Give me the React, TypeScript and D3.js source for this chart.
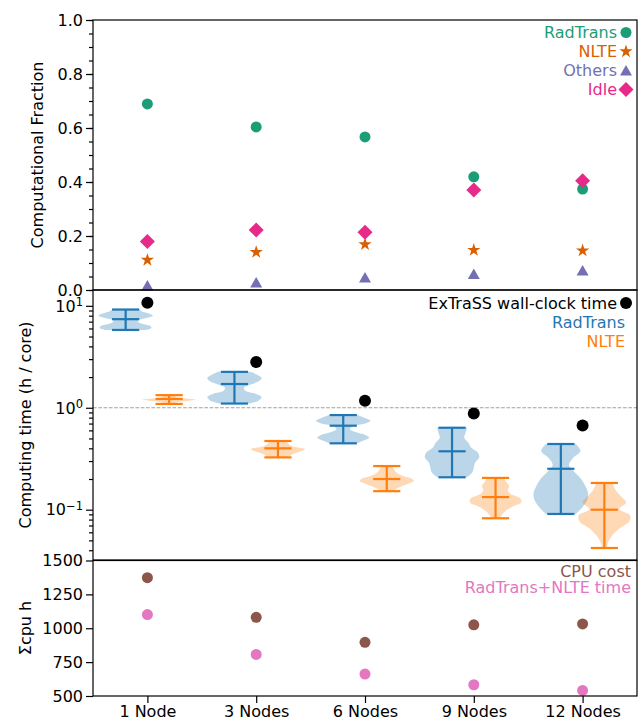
import { useEffect, useRef } from "react";
import * as d3 from "d3";

const NODES = ["1 Node", "3 Nodes", "6 Nodes", "9 Nodes", "12 Nodes"];

// top panel: fraction of computing time
const FRAC_RADTRANS = [0.689, 0.604, 0.567, 0.419, 0.374];
const FRAC_NLTE = [0.111, 0.14, 0.169, 0.148, 0.146];
const FRAC_OTHERS = [0.017, 0.028, 0.046, 0.059, 0.072];
const FRAC_IDLE = [0.18, 0.222, 0.214, 0.37, 0.405];

// middle panel: computing time per core (h)
const WALL_CLOCK = [10.7, 2.81, 1.17, 0.88, 0.67];
const RT_MIN = [5.8, 1.1, 0.448, 0.208, 0.0908];
const RT_MEAN = [7.4, 1.71, 0.667, 0.374, 0.252];
const RT_MAX = [9.2, 2.25, 0.848, 0.637, 0.441];
// relative violin widths, min -> max
const RT_SHAPE = [
  [0.75, 0.95, 0.9, 0.6, 0.45, 0.5, 0.8, 1.0, 0.85, 0.6, 0.5],
  [0.55, 0.9, 1.0, 0.8, 0.4, 0.35, 0.6, 0.9, 1.0, 0.85, 0.6],
  [0.5, 0.75, 0.95, 0.8, 0.45, 0.25, 0.35, 0.8, 1.0, 0.8, 0.5],
  [0.55, 0.75, 0.8, 0.85, 1.0, 0.95, 0.7, 0.6, 0.45, 0.5, 0.55],
  [0.55, 0.8, 0.97, 1.0, 0.9, 0.75, 0.5, 0.3, 0.45, 0.72, 0.55],
];
const NLTE_MIN = [1.09, 0.326, 0.152, 0.0824, 0.0421];
const NLTE_MEAN = [1.22, 0.4, 0.2, 0.133, 0.1];
const NLTE_MAX = [1.33, 0.472, 0.268, 0.205, 0.183];
const NLTE_SHAPE = [
  [0.15, 0.2, 0.3, 0.5, 0.8, 1.0, 0.7, 0.4, 0.25, 0.2, 0.15],
  [0.3, 0.45, 0.55, 0.7, 0.9, 1.0, 0.75, 0.5, 0.4, 0.35, 0.3],
  [0.2, 0.35, 0.55, 0.8, 1.0, 0.9, 0.6, 0.4, 0.3, 0.25, 0.2],
  [0.15, 0.25, 0.4, 0.65, 0.95, 0.9, 0.55, 0.45, 0.5, 0.4, 0.3],
  [0.08, 0.15, 0.3, 0.55, 0.9, 0.95, 0.55, 0.8, 0.6, 0.4, 0.3],
];

// bottom panel: summed cpu hours
const CPU_COST = [1373, 1081, 896, 1025, 1032];
const RT_NLTE_TIME = [1101, 807, 662, 583, 541];

const FONT = "DejaVu Sans, sans-serif";
const FS = 16;
const C_RT = "#1b9e77", C_NLTE = "#d95f02", C_OTH = "#7570b3", C_IDLE = "#e7298a";
const C0 = "#1f77b4", C1 = "#ff7f0e";

export default function App() {
  const svgRef = useRef<SVGSVGElement>(null);

  useEffect(() => {
    if (!svgRef.current) return;
    const svg = d3.select(svgRef.current);
    svg.selectAll("*").remove();

    const L = 93, R = 637;
    const x = d3.scaleLinear().domain([-0.5, 4.5]).range([L, R]);
    const y1 = d3.scaleLinear().domain([0, 1]).range([290, 20]);
    const y2 = d3.scaleLog().domain([0.0321, 14.3]).range([560, 290]);
    const y3 = d3.scaleLinear().domain([500, 1500]).range([696, 560.5]);

    const styleAxis = (g: any) => {
      g.select(".domain").remove();
      g.selectAll("line").attr("stroke", "#000").attr("stroke-width", 1.2);
      g.selectAll("text").attr("font-family", FONT).attr("font-size", FS).attr("fill", "#000");
    };

    // ---------- panel 1 ----------
    svg.append("g").attr("transform", `translate(${L},0)`)
      .call(d3.axisLeft(y1).tickValues(d3.range(0, 1.0001, 0.05)).tickSize(4).tickFormat(() => "") as any)
      .call(styleAxis);
    svg.append("g").attr("transform", `translate(${L},0)`)
      .call(d3.axisLeft(y1).tickValues([0, 0.2, 0.4, 0.6, 0.8, 1.0]).tickSize(7).tickPadding(3).tickFormat(d3.format(".1f")) as any)
      .call(styleAxis);

    const star = d3.symbol().type(d3.symbolStar).size(55)()!;
    const tri = "M0,-5.5L6,5L-6,5Z";
    const diamond = "M0,-7.5L7.5,0L0,7.5L-7.5,0Z";

    const p1 = svg.append("g");
    FRAC_RADTRANS.forEach((v, i) =>
      p1.append("circle").attr("cx", x(i)).attr("cy", y1(v)).attr("r", 5.5).attr("fill", C_RT));
    FRAC_NLTE.forEach((v, i) =>
      p1.append("path").attr("d", star).attr("transform", `translate(${x(i)},${y1(v)})`).attr("fill", C_NLTE));
    FRAC_OTHERS.forEach((v, i) =>
      p1.append("path").attr("d", tri).attr("transform", `translate(${x(i)},${y1(v)})`).attr("fill", C_OTH));
    FRAC_IDLE.forEach((v, i) =>
      p1.append("path").attr("d", diamond).attr("transform", `translate(${x(i)},${y1(v)})`).attr("fill", C_IDLE));

    const leg1 = [
      { t: "RadTrans", c: C_RT, m: "circle" },
      { t: "NLTE", c: C_NLTE, m: star },
      { t: "Others", c: C_OTH, m: tri },
      { t: "Idle", c: C_IDLE, m: diamond },
    ];
    leg1.forEach((e, i) => {
      const yy = 32.5 + i * 19;
      p1.append("text").attr("x", 617).attr("y", yy).attr("dy", "0.36em").attr("text-anchor", "end")
        .attr("font-family", FONT).attr("font-size", FS).attr("fill", e.c).text(e.t);
      if (e.m === "circle") p1.append("circle").attr("cx", 626).attr("cy", yy).attr("r", 5.5).attr("fill", e.c);
      else p1.append("path").attr("d", e.m).attr("transform", `translate(626,${yy})`).attr("fill", e.c);
    });

    // ---------- panel 2 ----------
    const minor: number[] = [];
    for (let k = -2; k <= 1; k++) for (let m = 2; m <= 9; m++) {
      const v = m * Math.pow(10, k);
      if (v > 0.0321 && v < 14.3) minor.push(v);
    }
    svg.append("g").attr("transform", `translate(${L},0)`)
      .call(d3.axisLeft(y2).tickValues(minor).tickSize(4).tickFormat(() => "") as any)
      .call(styleAxis);
    svg.append("g").attr("transform", `translate(${L},0)`)
      .call(d3.axisLeft(y2).tickValues([0.1, 1, 10]).tickSize(7).tickFormat(() => "") as any)
      .call(styleAxis);
    [[0.1, "\u22121"], [1, "0"], [10, "1"]].forEach(([v, e]) => {
      const t = svg.append("text").attr("x", 83).attr("y", y2(v as number)).attr("dy", "0.36em")
        .attr("text-anchor", "end").attr("font-family", FONT).attr("font-size", FS).attr("fill", "#000");
      t.append("tspan").text("10");
      t.append("tspan").attr("dy", "-0.45em").attr("font-size", 11.5).text(e as string);
    });

    svg.append("line").attr("x1", L).attr("x2", R).attr("y1", y2(1)).attr("y2", y2(1))
      .attr("stroke", "#a0a0a0").attr("stroke-width", 1.1).attr("stroke-dasharray", "3.7 1.6");

    const HALF = x(0.25) - x(0);
    const CAP = x(0.125) - x(0);
    const drawViolin = (cx: number, lo: number, hi: number, mean: number, shape: number[], color: string) => {
      const n = shape.length;
      const pts = shape.map((w, i) => ({
        y: y2(Math.pow(10, Math.log10(lo) + (Math.log10(hi) - Math.log10(lo)) * i / (n - 1))),
        w: w * HALF,
      }));
      const area = d3.area<{ y: number; w: number }>()
        .y((d) => d.y).x0((d) => cx - d.w).x1((d) => cx + d.w)
        .curve(d3.curveCatmullRom);
      svg.append("path").attr("d", area(pts)).attr("fill", color).attr("fill-opacity", 0.3);
      const g = svg.append("g").attr("stroke", color).attr("stroke-width", 2.2);
      g.append("line").attr("x1", cx).attr("x2", cx).attr("y1", y2(lo)).attr("y2", y2(hi));
      [lo, hi, mean].forEach((v) =>
        g.append("line").attr("x1", cx - CAP).attr("x2", cx + CAP).attr("y1", y2(v)).attr("y2", y2(v)));
    };
    NODES.forEach((_, i) => drawViolin(x(i - 0.2), RT_MIN[i], RT_MAX[i], RT_MEAN[i], RT_SHAPE[i], C0));
    NODES.forEach((_, i) => drawViolin(x(i + 0.2), NLTE_MIN[i], NLTE_MAX[i], NLTE_MEAN[i], NLTE_SHAPE[i], C1));
    WALL_CLOCK.forEach((v, i) =>
      svg.append("circle").attr("cx", x(i)).attr("cy", y2(v)).attr("r", 6).attr("fill", "#000"));

    const leg2 = [
      { t: "ExTraSS wall-clock time", c: "#000", x: 617 },
      { t: "RadTrans", c: C0, x: 625 },
      { t: "NLTE", c: C1, x: 625 },
    ];
    leg2.forEach((e, i) => {
      const yy = 303 + i * 19;
      svg.append("text").attr("x", e.x).attr("y", yy).attr("dy", "0.36em").attr("text-anchor", "end")
        .attr("font-family", FONT).attr("font-size", FS).attr("fill", e.c).text(e.t);
    });
    svg.append("circle").attr("cx", 626).attr("cy", 303).attr("r", 6).attr("fill", "#000");

    // ---------- panel 3 ----------
    svg.append("g").attr("transform", `translate(${L},0)`)
      .call(d3.axisLeft(y3).tickValues([500, 750, 1000, 1250, 1500]).tickSize(7).tickPadding(3).tickFormat(d3.format("d")) as any)
      .call(styleAxis);
    svg.append("g").attr("transform", "translate(0,696)")
      .call(d3.axisBottom(x).tickValues([0, 1, 2, 3, 4]).tickSize(7).tickPadding(3).tickFormat((d) => NODES[+d]) as any)
      .call(styleAxis);

    CPU_COST.forEach((v, i) =>
      svg.append("circle").attr("cx", x(i)).attr("cy", y3(v)).attr("r", 5.5).attr("fill", "#8c564b"));
    RT_NLTE_TIME.forEach((v, i) =>
      svg.append("circle").attr("cx", x(i)).attr("cy", y3(v)).attr("r", 5.5).attr("fill", "#e377c2"));
    [{ t: "CPU cost", c: "#8c564b" }, { t: "RadTrans+NLTE time", c: "#e377c2" }].forEach((e, i) => {
      svg.append("text").attr("x", 631).attr("y", 571 + i * 16).attr("dy", "0.36em").attr("text-anchor", "end")
        .attr("font-family", FONT).attr("font-size", FS).attr("fill", e.c).text(e.t);
    });

    // frames
    [[20, 290], [290, 560], [560.5, 696]].forEach(([t, b]) =>
      svg.append("rect").attr("x", L).attr("y", t).attr("width", R - L).attr("height", b - t)
        .attr("fill", "none").attr("stroke", "#000").attr("stroke-width", 1.2));

    // y labels
    [
      { t: "Computational Fraction", x: 37, y: 155 },
      { t: "Computing time (h / core)", x: 25, y: 425 },
      { t: "\u03a3cpu h", x: 25, y: 628 },
    ].forEach((e) =>
      svg.append("text").attr("transform", `translate(${e.x},${e.y}) rotate(-90)`).attr("dy", "0.36em")
        .attr("text-anchor", "middle").attr("font-family", FONT).attr("font-size", FS).attr("fill", "#000").text(e.t));
  }, []);

  return (
    <svg ref={svgRef} width={638} height={723}
      style={{ position: "absolute", left: 0, top: 0, background: "#fff" }} />
  );
}
